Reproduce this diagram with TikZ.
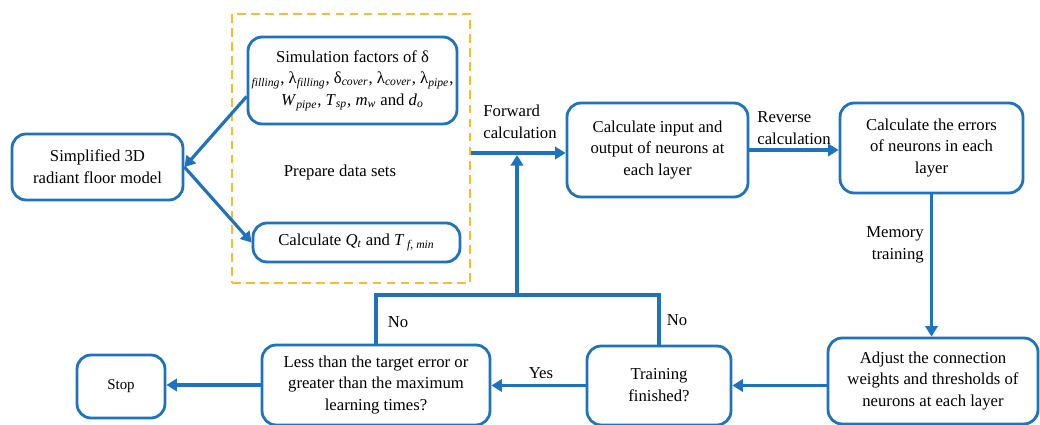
\documentclass[tikz,border=0pt]{standalone}
\usepackage{fontspec}
\setmainfont{Liberation Serif}
\usetikzlibrary{positioning,arrows.meta}
\definecolor{flowblue}{RGB}{30,114,190}
\definecolor{prepyellow}{RGB}{247,190,40}
\newcommand{\sbs}[1]{\textsubscript{\itshape #1}}

\begin{document}
\begin{tikzpicture}[x=0.02cm, y=-0.02cm, font=\rmfamily\fontsize{9.5}{12.5}\selectfont,
  box/.style={rectangle, draw=flowblue, line width=1.6pt, rounded corners=8pt, align=center, inner sep=2pt},
  link/.style={draw=flowblue, line width=1.8pt, -{Triangle[length=6pt,width=7pt]}},
  line/.style={draw=flowblue, line width=1.8pt},
  prep/.style={draw=prepyellow, line width=1.3pt, dash pattern=on 5pt off 3pt}]
  \useasboundingbox (0,0) rectangle (1040,425);

  % data preparation
  \node[prep, minimum width=4.76cm, minimum height=5.38cm] (prepare) at (351,148.5) {};
  \node (prepname) at (340,172) {Prepare data sets};
  \node[box, minimum width=3.42cm, minimum height=1.32cm] (model) at (97.5,167) {Simplified 3D\\radiant floor model};
  \node[box, minimum width=4.1cm, minimum height=1.74cm] (factors) at (352.5,80.5)
    {Simulation factors of δ\\ \sbs{filling}, λ\sbs{filling}, δ\sbs{cover}, λ\sbs{cover}, λ\sbs{pipe},\\ \textit{W}\sbs{pipe}, \textit{T}\sbs{sp}, \textit{m}\sbs{w} and \textit{d}\sbs{o}};
  \node[box, minimum width=4.14cm, minimum height=0.78cm] (loads) at (356.5,242.5) {Calculate \textit{Q}\sbs{t} and \textit{T}\,\sbs{f, min}};

  % network training
  \node[box, minimum width=3.62cm, minimum height=1.88cm] (forward) at (657.5,150) {Calculate input and\\output of neurons at\\each layer};
  \node[box, minimum width=3.66cm, minimum height=1.8cm] (errors) at (931.5,148) {Calculate the errors\\of neurons in each\\layer};
  \node[box, minimum width=4.2cm, minimum height=1.72cm] (adjust) at (933,381) {Adjust the connection\\weights and thresholds of\\neurons at each layer};
  \node[box, minimum width=2.88cm, minimum height=1.58cm] (finished) at (659,385.5) {Training\\finished?};
  \node[box, minimum width=4.56cm, minimum height=1.6cm] (target) at (376,385) {Less than the target error or\\greater than the maximum\\learning times?};
  \node[box, minimum width=1.76cm, minimum height=1.26cm, font=\rmfamily\fontsize{8.5}{10}\selectfont] (stop) at (121,386.5) {Stop};

  \draw[link] ([yshift=-0.32cm]factors.west) -- (model.east);
  \draw[link] (model.east) -- (loads.west);
  \draw[link] (prepare.east |- 0,153) -- (forward.west |- 0,153);
  \draw[link] (forward.east) -- (errors.west |- forward.east);
  \draw[link] (errors.south) -- (adjust.north -| errors.south);
  \draw[link] (adjust.west |- finished.east) -- (finished.east);
  \draw[link] (finished.west) -- (target.east |- finished.west);
  \draw[link] (target.west) -- (stop.east |- target.west);

  % loop back
  \coordinate (merge) at (517,295);
  \draw[line] (target.north) -- (target.north |- merge) -| (finished.north);
  \draw[link] (merge) -- (517,155);

  \node[align=left] at (520,122) {Forward\\calculation};
  \node[align=left] at (794,128) {Reverse\\calculation};
  \node[align=right, anchor=east] at (930,245) {Memory\\training};
  \node at (398,322) {No};
  \node at (677,320) {No};
  \node at (541,373) {Yes};
\end{tikzpicture}
\end{document}
